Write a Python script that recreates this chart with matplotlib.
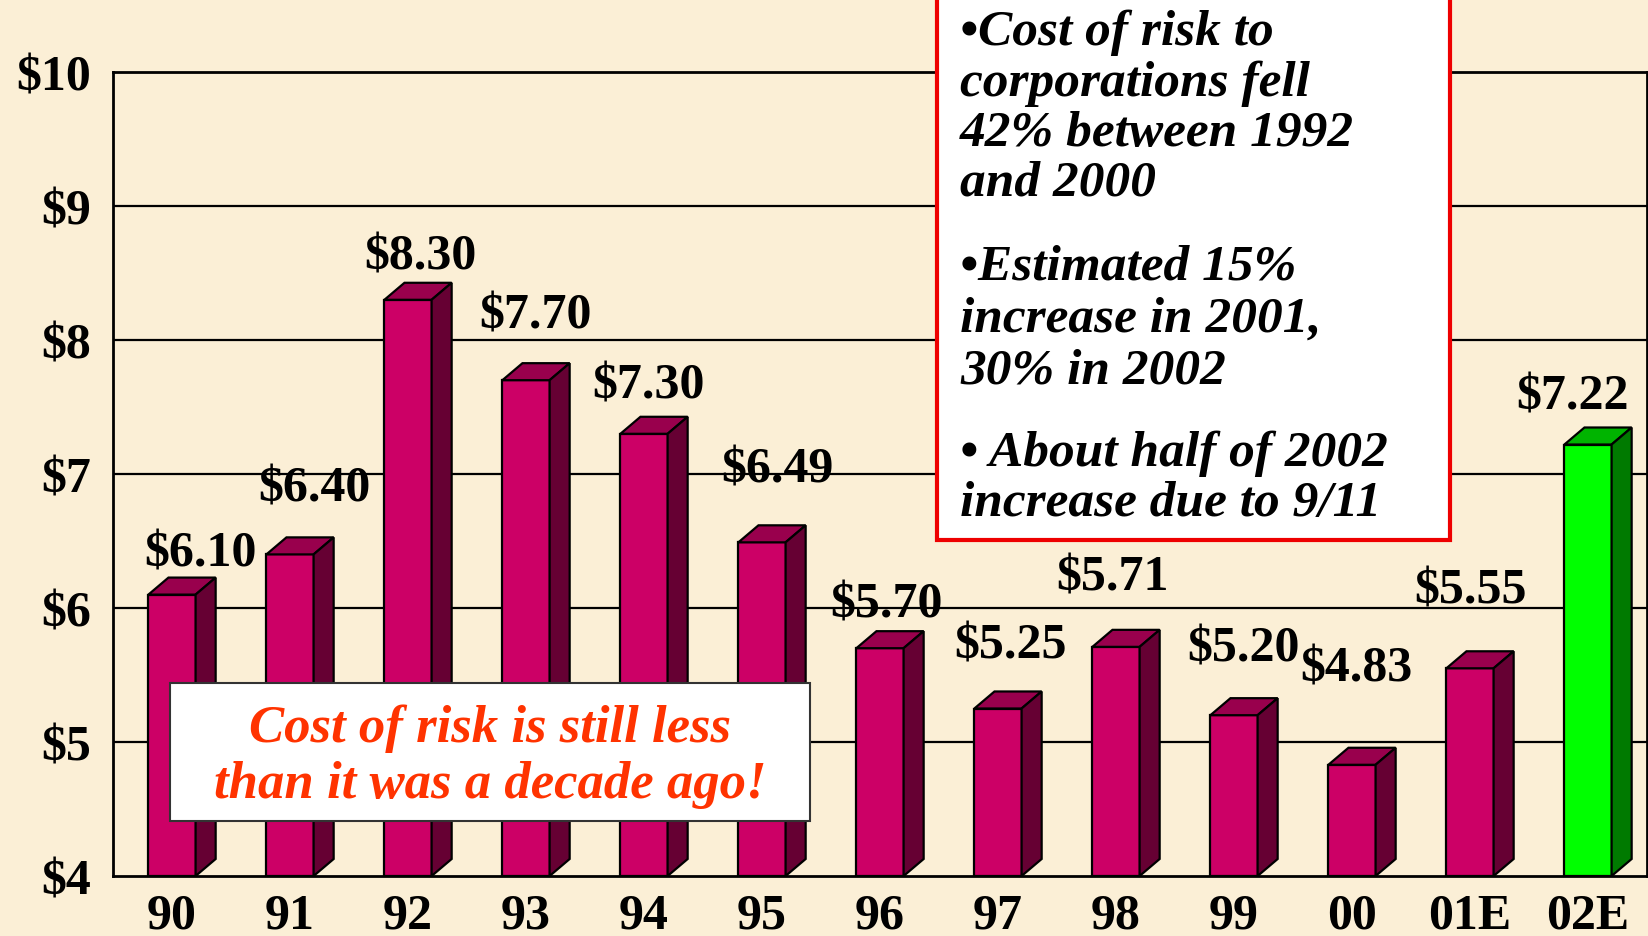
#!/usr/bin/env python
import numpy as np
import matplotlib
matplotlib.use('Agg')
import matplotlib.pyplot as plt
from matplotlib.patches import Polygon, Rectangle

years = ['90', '91', '92', '93', '94', '95', '96', '97', '98', '99', '00', '01E', '02E']
cost = [6.10, 6.40, 8.30, 7.70, 7.30, 6.49, 5.70, 5.25, 5.71, 5.20, 4.83, 5.55, 7.22]
yticks = [4, 5, 6, 7, 8, 9, 10]

# label placement relative to bar top, in pixels (dx, dy)
label_dx = [28, 24, 12, 9, 4, 15, 6, 13, -4, 9, 4, 1, -15]
label_dy = [41, 66, 43, 65, 48, 73, 44, 63, 69, 67, 96, 78, 48]

note_lines = ["\u2022Cost of risk to", "corporations fell", "42% between 1992", "and 2000",
              "\u2022Estimated 15%", "increase in 2001,", "30% in 2002",
              "\u2022 About half of 2002", "increase due to 9/11"]
note_base = [45, 96, 146, 196, 280, 332, 384, 466, 516]
callout = ["Cost of risk is still less", "than it was a decade ago!"]
callout_base = [742, 798]

BG = '#FBEFD6'
FRONT, TOP, SIDE = '#CC0066', '#99004D', '#660033'
GFRONT, GTOP, GSIDE = '#00FF00', '#00B400', '#007A00'
SERIF = 'Liberation Serif'

W, H = 1649, 937
fig = plt.figure(figsize=(W / 100, H / 100), dpi=100, facecolor=BG)
ax = fig.add_axes([113 / W, (H - 877) / H, 1534 / W, 804 / H])
ax.set_facecolor(BG)
ax.set_xlim(0, len(years))
ax.set_ylim(4, 10)

x = np.arange(len(years)) + 0.5
width = 0.4
ddx, ddy = 0.17, 0.127

for yv in yticks[1:-1]:
    ax.axhline(yv, color='black', lw=1.6, zorder=1)

colors = [(FRONT, TOP, SIDE)] * (len(years) - 1) + [(GFRONT, GTOP, GSIDE)]
ax.bar(x, np.array(cost) - 4, width, bottom=4, color=[c[0] for c in colors],
       edgecolor='black', lw=1.6, zorder=3)
for xi, v, (fc, tc, sc) in zip(x, cost, colors):
    x0, x1 = xi - width / 2, xi + width / 2
    top = Polygon([(x0, v), (x0 + ddx, v + ddy), (x1 + ddx, v + ddy), (x1, v)],
                  closed=True, fc=tc, ec='black', lw=1.6, zorder=3)
    side = Polygon([(x1, 4), (x1 + ddx, 4 + ddy), (x1 + ddx, v + ddy), (x1, v)],
                   closed=True, fc=sc, ec='black', lw=1.6, zorder=3)
    ax.add_patch(top)
    ax.add_patch(side)

for xi, v, dx, dy in zip(x, cost, label_dx, label_dy):
    ax.annotate(f'${v:.2f}', (xi, v), xytext=(dx * 0.72, dy * 0.72),
                textcoords='offset points', ha='center', va='center',
                fontsize=36, fontweight='bold', family=SERIF, zorder=5)

for s in ax.spines.values():
    s.set_linewidth(2)
    s.set_color('black')
ax.set_xticks(x)
ax.set_xticklabels(years)
ax.set_yticks(yticks)
ax.set_yticklabels([f'${t}' for t in yticks])
ax.tick_params(length=0)
ax.tick_params(axis='x', pad=12)
ax.tick_params(axis='y', pad=16)
for lab in ax.get_xticklabels() + ax.get_yticklabels():
    lab.set_fontsize(36)
    lab.set_fontweight('bold')
    lab.set_family(SERIF)

# notes box on the right
fig.patches.append(Rectangle((937 / W, (H - 541) / H), 513 / W, 560 / H,
                             transform=fig.transFigure, fc='white', ec='#EE0000',
                             lw=3, zorder=10))
for txt, yb in zip(note_lines, note_base):
    fig.text(960 / W, (H - yb) / H, txt, ha='left', va='baseline',
             fontsize=37, fontweight='bold', style='italic', family=SERIF, zorder=11)

# callout box
fig.patches.append(Rectangle((170 / W, (H - 822) / H), 640 / W, 138 / H,
                             transform=fig.transFigure, fc='white', ec='#333333',
                             lw=1.5, zorder=10))
for txt, yb in zip(callout, callout_base):
    fig.text(490 / W, (H - yb) / H, txt, ha='center', va='baseline',
             fontsize=38, fontweight='bold', style='italic', family=SERIF,
             color='#FF3300', zorder=11)

fig.savefig('out.png', dpi=100, facecolor=BG)
